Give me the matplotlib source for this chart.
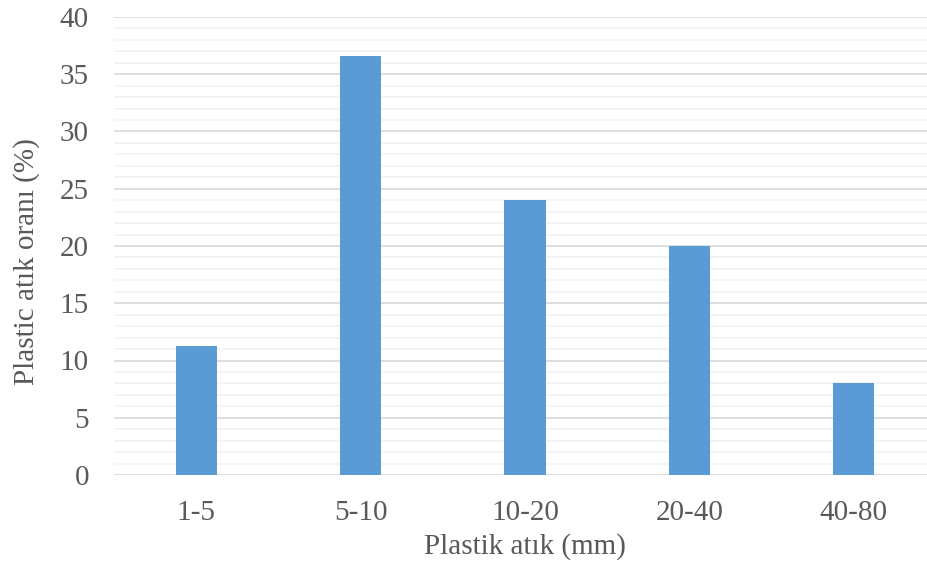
import numpy as np
import matplotlib.pyplot as plt

categories = ["1-5", "5-10", "10-20", "20-40", "40-80"]
values = [11.3, 36.6, 24.0, 20.0, 8.0]

plt.rcParams["font.family"] = ["Liberation Serif", "DejaVu Serif"]


def main():
    fig = plt.figure(figsize=(9.28, 5.63), dpi=100)
    # plot area runs slightly past the right edge, as in the reference crop
    ax = fig.add_axes([114 / 928, 1 - 475 / 563, 822 / 928, 458 / 563])

    x = np.arange(len(categories))
    ax.bar(x, values, width=0.25, color="#5b9bd5", zorder=3)

    ax.set_xlim(-0.5, len(categories) - 0.5)
    ax.set_ylim(0, 40)
    ax.set_yticks(np.arange(0, 41, 5))
    ax.set_yticks(np.arange(0, 41, 1), minor=True)
    ax.set_xticks(x)
    ax.set_xticklabels(categories)

    ax.grid(axis="y", which="major", color="#d9d9d9", linewidth=1.2, zorder=0)
    ax.grid(axis="y", which="minor", color="#f2f2f2", linewidth=1.2, zorder=0)
    for s in ax.spines.values():
        s.set_visible(False)
    ax.tick_params(which="both", length=0, labelsize=21, colors="#595959")
    ax.tick_params(axis="y", pad=18)
    ax.tick_params(axis="x", pad=18)

    ax.set_xlabel("Plastik atık (mm)", fontsize=21, color="#595959", labelpad=5)
    ax.set_ylabel("Plastic atık oranı (%)", fontsize=21, color="#595959")
    ax.yaxis.set_label_coords(-0.090, 0.465)

    fig.savefig("out.png", dpi=100)


if __name__ == "__main__":
    main()
